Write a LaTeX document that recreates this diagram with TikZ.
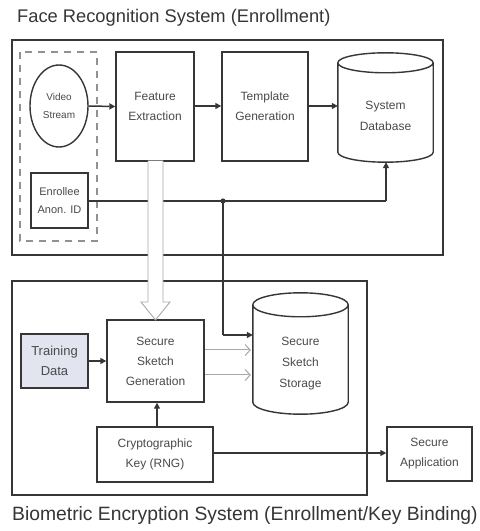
\documentclass[tikz,border=0pt]{standalone}
\usepackage{fontspec}
\setmainfont{Liberation Sans}
\usetikzlibrary{arrows.meta,calc,shapes.geometric}

\definecolor{ink}{HTML}{363636}
\definecolor{soft}{HTML}{A8A8A8}
\definecolor{trainfill}{HTML}{E2E4F0}

\tikzset{
  box/.style={draw=ink, line width=1.4pt, fill=white, inner sep=1pt, align=center,
    font=\fontsize{12}{20}\selectfont, text=ink!90},
  frame/.style={draw=ink, line width=1.4pt},
  flow/.style={draw=ink, line width=1.5pt, -{Triangle[length=6pt,width=6pt]}},
  wire/.style={draw=ink, line width=1.5pt},
  thin/.style={draw=soft, line width=1pt, -{Straight Barb[length=5pt,width=11pt,line width=1pt]}},
  shell/.style={inner sep=0pt, align=center, font=\fontsize{12}{21}\selectfont, text=ink!90},
  heading/.style={anchor=west, inner sep=0pt, text=ink},
}

% upright cylinder drawn over a named node: #1 node, #2 cap half-height (pt)
\newcommand\drumshape[2]{%
  \path let \p1=(#1.north west), \p2=(#1.south east), \n1={(\x2-\x1)/2} in
    [draw=ink, line width=1.4pt, fill=white]
    (\x1,\y1-#2pt) -- (\x1,\y2+#2pt)
    arc[start angle=180, end angle=360, x radius=\n1, y radius=#2pt]
    -- (\x2,\y1-#2pt)
    arc[start angle=0, end angle=180, x radius=\n1, y radius=#2pt]
    arc[start angle=180, end angle=360, x radius=\n1, y radius=#2pt];
}

\begin{document}
\begin{tikzpicture}[x=1pt,y=1pt]
\path[fill=white] (0,0) rectangle (480,531);
\useasboundingbox (0,0) rectangle (480,531);

% ---- enrollment frame ----
\node[heading, font=\fontsize{18.3}{20}\selectfont] (t1) at (17,513) {Face Recognition System (Enrollment)};
\draw[frame] (12,491) rectangle (443,276);
\draw[draw=soft!80!ink, line width=1.3pt, dash pattern=on 7pt off 6pt] (20,479) rectangle (97,290);

\node[draw=ink, line width=1.4pt, ellipse, fill=white, minimum width=58pt, minimum height=82pt,
      inner sep=0pt, align=center, font=\fontsize{10}{18}\selectfont, text=ink!90]
      (video) at (59,425) {Video\\Stream};
\node[box, minimum width=78pt, minimum height=109pt] (feat) at (155,424.5) {Feature\\Extraction};
\node[box, minimum width=86pt, minimum height=109pt] (tmpl) at (265,424.5) {Template\\Generation};
\node[shell, minimum width=95pt, minimum height=109pt] (db) at (385.5,423.5) {};
\drumshape{db}{10}
\node[shell] at (385.5,415) {System\\Database};
\node[box, minimum width=57pt, minimum height=55pt, font=\fontsize{11}{18}\selectfont] (anon) at (59.5,330.5) {Enrollee\\Anon. ID};

\draw[flow] (video.east) -- (feat.west);
\draw[flow] (feat.east |- 0,425) -- (tmpl.west |- 0,425);
\draw[flow] (tmpl.east |- 0,425) -- (db.west |- 0,425);

\coordinate (junc) at (223,330);
\coordinate (bend) at (386,330);
\draw[wire] (anon.east |- junc) -- (bend);
\draw[flow] (bend) -- (db.south -| bend);
\fill[ink] (junc) circle (2.6pt);

% ---- key binding frame ----
\node[heading, font=\fontsize{19.3}{21}\selectfont] (t2) at (12,15) {Biometric Encryption System (Enrollment/Key Binding)};
\draw[frame] (12,250) rectangle (367,36);

\node[box, fill=trainfill, minimum width=67pt, minimum height=54pt, font=\fontsize{13}{20}\selectfont] (train) at (54.5,170) {Training\\Data};
\node[box, minimum width=97pt, minimum height=82pt] (ssg) at (155.5,170) {Secure\\Sketch\\Generation};
\node[shell, minimum width=95pt, minimum height=121pt] (store) at (300.5,177.5) {};
\drumshape{store}{12}
\node[shell] at (300.5,167) {Secure\\Sketch\\Storage};
\node[box, minimum width=116pt, minimum height=55pt] (key) at (155,76.5) {Cryptographic\\Key (RNG)};
\node[box, minimum width=85pt, minimum height=54pt] (app) at (429.5,77) {Secure\\Application};

\draw[flow] (train.east) -- (ssg.west);
\draw[flow] (key.north -| 157,0) -- (ssg.south -| 157,0);
\draw[flow] (key.east |- 0,78) -- (app.west |- 0,78);
\draw[thin] (ssg.east |- 0,181) -- ($(store.west |- 0,181)+(-2,0)$);
\draw[thin] (ssg.east |- 0,156) -- ($(store.west |- 0,156)+(-2,0)$);

\coordinate (drop) at (223,196);
\draw[wire] (junc) -- (drop);
\draw[flow] (drop) -- (store.west |- drop);

% hollow feature arrow crossing both frames
\draw[draw=soft, line width=0.9pt, fill=white]
  (148,370.3) -- (148,229) -- (141,229) -- (155.5,211) -- (170,229) -- (163,229) -- (163,370.3);
\end{tikzpicture}
\end{document}
